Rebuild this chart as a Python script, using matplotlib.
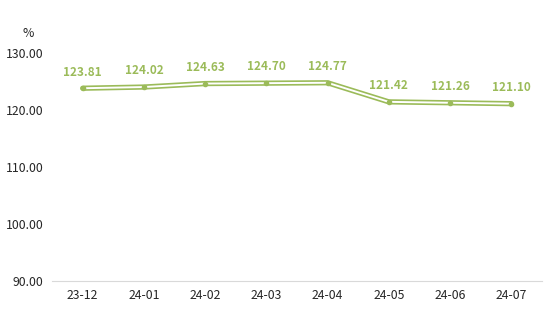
import matplotlib.pyplot as plt
import numpy as np

plt.rcParams['font.family'] = ['Noto Sans CJK SC', 'DejaVu Sans']

months = ['23-12', '24-01', '24-02', '24-03', '24-04', '24-05', '24-06', '24-07']
values = [123.81, 124.02, 124.63, 124.70, 124.77, 121.42, 121.26, 121.10]

green = '#9bbb59'
x = np.arange(len(months))

fig = plt.figure(figsize=(5.54, 3.21), dpi=100)
ax = fig.add_axes([0.094, 0.125, 0.884, 0.71])

# double line: thick green with thin white core
ax.plot(x, values, color=green, lw=3.8, solid_capstyle='round', solid_joinstyle='round', zorder=2)
ax.plot(x, values, color='white', lw=1.4, solid_capstyle='round', solid_joinstyle='round', zorder=3)
ax.plot(x, values, ls='none', marker='o', ms=3, color=green, zorder=4)

for xi, v in zip(x, values):
    ax.annotate('%.2f' % v, (xi, v), xytext=(0, 7), textcoords='offset points',
                ha='center', va='bottom', color=green, fontsize=8.5, fontweight='bold')

ax.set_xlim(-0.5, len(months) - 0.5)
ax.set_ylim(90, 130)
ax.set_yticks([90, 100, 110, 120, 130])
ax.set_yticklabels(['%.2f' % t for t in [90, 100, 110, 120, 130]])
ax.set_xticks(x)
ax.set_xticklabels(months)

for s in ['top', 'right', 'left']:
    ax.spines[s].set_visible(False)
ax.spines['bottom'].set_color('#d9d9d9')
ax.tick_params(length=0, labelsize=8.8, colors='#262626')
ax.tick_params(axis='x', pad=6)
ax.tick_params(axis='y', pad=6)

fig.text(0.05, 0.885, '%', fontsize=8.8, color='#262626', ha='center')

fig.savefig('out.png', dpi=100)
